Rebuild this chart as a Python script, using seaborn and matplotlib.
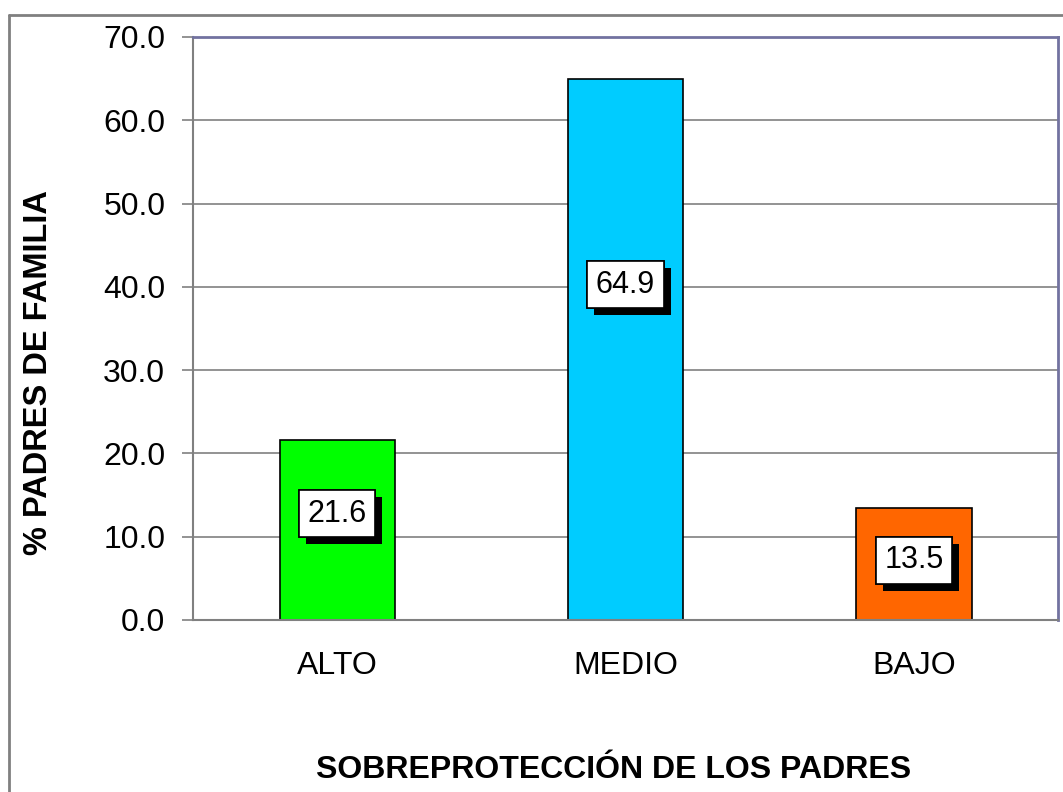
import matplotlib.pyplot as plt
import matplotlib.patheffects as pe
import seaborn as sns
import pandas as pd

categorias = ['ALTO', 'MEDIO', 'BAJO']
porcentajes = [21.6, 64.9, 13.5]
colores = ['#00ff00', '#00ccff', '#ff6600']

df = pd.DataFrame({'nivel': categorias, 'pct': porcentajes})

sns.set_theme(style='white')
plt.rcParams['font.family'] = ['Liberation Sans', 'DejaVu Sans']
plt.rcParams['text.color'] = 'black'
plt.rcParams['axes.labelcolor'] = 'black'
plt.rcParams['xtick.color'] = 'black'
plt.rcParams['ytick.color'] = 'black'

fig = plt.figure(figsize=(10.63, 7.92), dpi=100)
ax = fig.add_axes([0.1816, 0.2172, 0.8137, 0.7361])

sns.barplot(data=df, x='nivel', y='pct', hue='nivel', palette=colores, saturation=1,
            width=0.40, edgecolor='black', linewidth=1.2, legend=False, ax=ax)

ax.set_ylim(0, 70)
ax.set_xlim(-0.5, 2.5)
ax.set_yticks(range(0, 71, 10))
ax.set_yticklabels([f'{v:.1f}' for v in range(0, 71, 10)], fontsize=23)
ax.yaxis.grid(True, color='#808080', linewidth=1.2)
ax.set_axisbelow(True)

# ticks between categories
ax.set_xticks([-0.5, 0.5, 1.5, 2.5], minor=True)
ax.tick_params(axis='x', which='minor', length=8, width=1.2, color='#808080', direction='out')
ax.tick_params(axis='x', which='major', length=0, labelsize=23, pad=22)
ax.tick_params(axis='y', length=8, width=1.2, color='#808080', labelcolor='black',
               direction='out', left=True, pad=12)

for side in ['left', 'bottom']:
    ax.spines[side].set_color('#808080')
    ax.spines[side].set_linewidth(1.5)
for side in ['top', 'right']:
    ax.spines[side].set_visible(True)
    ax.spines[side].set_color('#7272a0')
    ax.spines[side].set_linewidth(2)

ax.set_xlabel('SOBREPROTECCIÓN DE LOS PADRES', fontsize=23, fontweight='bold')
ax.set_ylabel('% PADRES DE FAMILIA', fontsize=23.5, fontweight='bold')
ax.xaxis.set_label_coords(0.486, -0.232)
ax.yaxis.set_label_coords(-0.161, 0.425)

# posición vertical de la etiqueta dentro de cada barra (fracción de la altura)
frac_etiqueta = [0.59, 0.62, 0.53]
for i, v in enumerate(porcentajes):
    t = ax.text(i, v * frac_etiqueta[i], f'{v:.1f}', ha='center', va='center', fontsize=22,
                bbox=dict(boxstyle='square,pad=0.28', facecolor='white', edgecolor='black', linewidth=1.2))
    t.get_bbox_patch().set_path_effects([
        pe.withSimplePatchShadow(offset=(5, -5), shadow_rgbFace='black', alpha=1.0),
        pe.Normal()])

# outer chart frame
fig.add_artist(plt.Line2D([9 / 1063, 9 / 1063], [0, 1 - 15 / 792], transform=fig.transFigure,
                          color='#808080', linewidth=2))
fig.add_artist(plt.Line2D([9 / 1063, 1], [1 - 15 / 792, 1 - 15 / 792], transform=fig.transFigure,
                          color='#808080', linewidth=2))

fig.savefig('out.png', dpi=100)
